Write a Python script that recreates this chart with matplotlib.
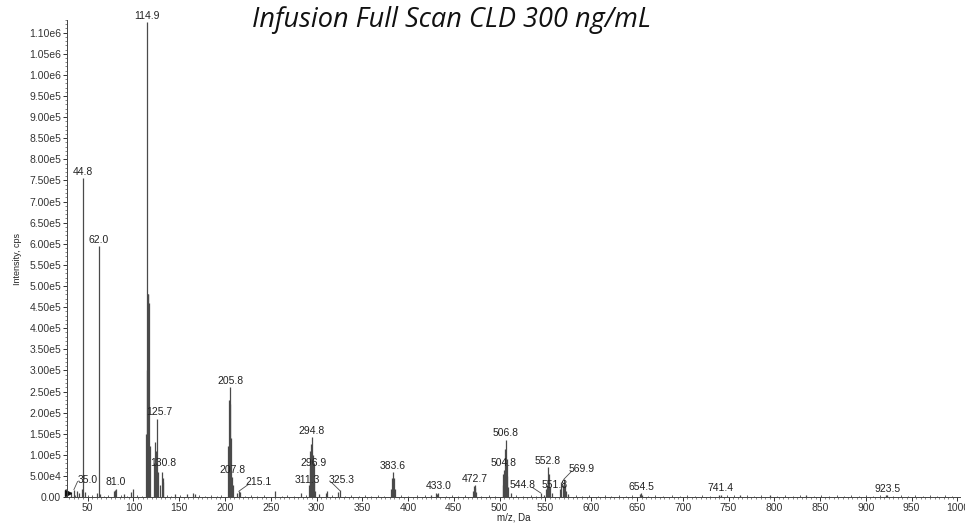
import numpy as np
import matplotlib
matplotlib.use("Agg")
from matplotlib import pyplot as plt
from matplotlib.ticker import FuncFormatter, MultipleLocator

# labelled peaks (m/z, intensity in cps)
label_mz = [35.0, 44.8, 62.0, 81.0, 114.9, 125.7, 130.8, 205.8, 207.8, 215.1,
            294.8, 296.9, 311.3, 325.3, 383.6, 433.0, 472.7, 504.8, 506.8,
            544.8, 551.8, 552.8, 569.9, 654.5, 741.4, 923.5]
label_int = [1.8e4, 7.55e5, 5.95e5, 2.0e4, 1.125e6, 1.86e5, 6.0e4, 2.6e5, 4.8e4, 1.4e4,
             1.43e5, 8.0e4, 1.5e4, 1.6e4, 6.0e4, 1.1e4, 2.9e4, 6.5e4, 1.36e5,
             1.0e4, 3.0e4, 7.1e4, 4.2e4, 1.0e4, 6.0e3, 5.0e3]

# unlabelled peaks around the clusters
extra_mz = [32, 38, 41, 43.5, 47, 60, 64, 79, 80, 90, 97, 99,
            113.6, 114.3, 115.6, 116.4, 117.2, 118.0, 122.8, 123.6, 124.4, 126.5,
            129.5, 131.8, 132.6, 145, 158, 165, 167,
            203.6, 204.4, 205.0, 206.6, 208.6, 213.5, 216.5, 255, 283,
            291.6, 292.4, 293.2, 294.0, 295.6, 296.2, 297.6, 298.4, 303, 310, 323,
            381.8, 382.6, 384.4, 385.2, 425, 430, 432,
            470.8, 471.6, 473.6, 474.4,
            503.2, 504.0, 505.6, 507.6, 508.4, 509.2, 512,
            548, 550.6, 553.6, 554.4, 555.4, 557, 566, 567.5, 568.7, 571, 572.5, 575,
            653, 656, 740, 763, 795, 835, 922]
extra_int = [1.2e4, 1.5e4, 1.0e4, 2.0e4, 1.2e4, 1.0e4, 8e3, 1.5e4, 1.8e4, 8e3, 1.2e4, 2.0e4,
             1.5e5, 3.0e5, 4.8e5, 4.8e5, 4.6e5, 1.2e5, 8e4, 1.3e5, 1.1e5, 6e4,
             3.0e4, 4.5e4, 3.5e4, 8e3, 7e3, 9e3, 8e3,
             1.2e5, 2.3e5, 2.2e5, 1.4e5, 3.0e4, 1.0e4, 1.2e4, 1.5e4, 1.0e4,
             3.0e4, 7.0e4, 1.1e5, 1.25e5, 1.0e5, 6.0e4, 3.5e4, 1.5e4, 8e3, 9e3, 1.2e4,
             2.0e4, 4.5e4, 4.5e4, 2.0e4, 6e3, 9e3, 8e3,
             1.5e4, 2.6e4, 2.2e4, 1.2e4,
             3.0e4, 5.5e4, 1.15e5, 9.0e4, 5.0e4, 2.5e4, 1.0e4,
             6e3, 2.0e4, 5.5e4, 4.0e4, 2.5e4, 1.0e4, 2.0e4, 3.5e4, 3.0e4, 3.0e4, 1.5e4, 8e3,
             7e3, 6e3, 5e3, 5e3, 5e3, 4e3, 4e3]

# baseline noise
noise_mz = [36, 50, 55, 68, 72, 86, 93, 104, 109, 137, 141, 151, 172, 178, 185, 191,
            196, 222, 228, 235, 243, 262, 268, 275, 288, 317, 331, 338, 346, 353, 360,
            367, 374, 392, 400, 410, 418, 441, 448, 455, 462, 480, 488, 495, 518, 526,
            534, 540, 583, 590, 598, 607, 615, 622, 630, 638, 645, 662, 670, 678, 688,
            697, 705, 713, 721, 730, 748, 756, 770, 778, 786, 803, 812, 820, 828, 843,
            851, 860, 868, 876, 884, 892, 900, 908, 915, 930, 938, 946, 954, 962, 970,
            978, 986, 994]
noise_int = [6e3, 5e3, 4e3, 3e3, 5e3, 4e3, 3e3, 4e3, 3e3, 4e3, 3e3, 5e3, 4e3, 3e3, 5e3, 3e3,
             4e3, 3e3, 4e3, 3e3, 5e3, 3e3, 4e3, 3e3, 4e3, 4e3, 3e3, 5e3, 3e3, 4e3, 3e3,
             4e3, 3e3, 4e3, 3e3, 4e3, 5e3, 3e3, 4e3, 3e3, 4e3, 3e3, 4e3, 3e3, 4e3, 3e3,
             4e3, 3e3, 4e3, 3e3, 4e3, 3e3, 4e3, 3e3, 5e3, 3e3, 4e3, 3e3, 4e3, 3e3, 4e3,
             3e3, 4e3, 3e3, 4e3, 3e3, 4e3, 5e3, 4e3, 3e3, 4e3, 3e3, 4e3, 3e3, 4e3, 3e3,
             4e3, 3e3, 4e3, 3e3, 4e3, 3e3, 4e3, 3e3, 4e3, 3e3, 4e3, 3e3, 4e3, 3e3, 4e3,
             3e3, 4e3, 3e3]

# label text offsets (m/z, cps) relative to the peak top, and leaders
label_offset = {35.0: (15, 1.2e4), 130.8: (2, 8e3), 125.7: (2, 3e3),
                207.8: (0, 5e3), 215.1: (22, 1e4), 296.9: (0, -1e4),
                311.3: (-21, 1.3e4), 325.3: (2, 1.2e4), 504.8: (0, 4e3),
                544.8: (-20, 6e3), 551.8: (8, -1.2e4), 569.9: (20, 1.3e4)}
leaders = [35.0, 215.1, 325.3, 544.8, 569.9]

line_col = "#4a4a4a"
plt.rcParams['font.family'] = ['Liberation Sans', 'DejaVu Sans']

fig = plt.figure(figsize=(9.65, 5.25), dpi=100)
ax = fig.add_axes([0.069, 0.053, 0.926, 0.909])

ax.vlines(noise_mz, 0, noise_int, color=line_col, lw=0.6)
ax.vlines(extra_mz, 0, extra_int, color=line_col, lw=0.9)
ax.vlines(label_mz, 0, label_int, color=line_col, lw=0.9)
ax.axhline(1.5e3, color=line_col, lw=0.6)

for mz, h in zip(label_mz, label_int):
    dx, dy = label_offset.get(mz, (0, 3e3))
    tx, ty = mz + dx, h + dy
    ax.text(tx, ty, f"{mz:.1f}", ha="center", va="bottom", fontsize=7.5,
            color="#222222", clip_on=False)
    if mz in leaders:
        ax.plot([mz, tx - 11 if dx > 0 else tx + 11], [h, ty + 7e3],
                color=line_col, lw=0.6)

# small start marker at the origin
ax.plot([28.5], [9e3], marker=">", color="#111111", ms=4, clip_on=False)

ax.set_xlim(27, 1003)
ax.set_ylim(0, 1.13e6)

ax.xaxis.set_major_locator(MultipleLocator(50))
ax.xaxis.set_minor_locator(MultipleLocator(5))
ax.yaxis.set_major_locator(MultipleLocator(5e4))
ax.yaxis.set_minor_locator(MultipleLocator(1e4))


def fmt(v, pos):
    if v == 0:
        return "0.00"
    e = int(np.floor(np.log10(abs(v))))
    return f"{v / 10 ** e:.2f}e{e}"


ax.yaxis.set_major_formatter(FuncFormatter(fmt))
ax.tick_params(axis="both", which="major", labelsize=7.5, length=3, width=0.7,
               colors="#333333", pad=1)
ax.tick_params(axis="both", which="minor", length=1.5, width=0.5, colors="#555555")

for s in ["top", "right"]:
    ax.spines[s].set_visible(False)
for s in ["left", "bottom"]:
    ax.spines[s].set_color("#444444")
    ax.spines[s].set_linewidth(0.7)

ax.set_xlabel("m/z, Da", fontsize=7, labelpad=0, color="#222222")
ax.set_ylabel("Intensity, cps", fontsize=6.5, labelpad=5, color="#222222")

fig.text(0.468, 0.962, "Infusion Full Scan CLD 300 ng/mL", ha="center", va="center",
         fontsize=19.5, style="italic", family="Open Sans", color="#111111")

fig.savefig("out.png", dpi=100)
